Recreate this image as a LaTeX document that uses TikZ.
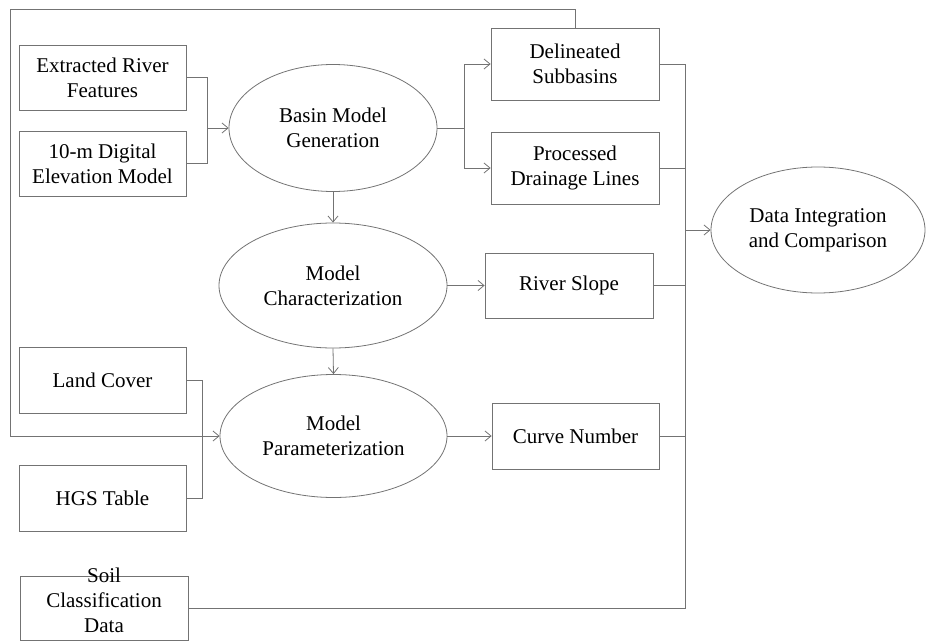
\documentclass[tikz,border=0pt]{standalone}
\usepackage{fontspec}
\setmainfont{Liberation Serif}
\usetikzlibrary{shapes.geometric,arrows.meta}

\begin{document}
\begin{tikzpicture}[x=1pt,y=-1pt,
    every node/.style={font=\fontsize{21}{25}\selectfont,align=center,inner sep=0pt},
    databox/.style={draw=black!55,line width=0.8pt,rectangle,minimum width=167pt,minimum height=65pt},
    process/.style={draw=black!55,line width=0.8pt,ellipse},
    link/.style={draw=black!55,line width=0.8pt},
    flow/.style={link,-{Straight Barb[length=6pt,width=10pt]}}]

    \useasboundingbox (0,0) rectangle (926,642);

    % --- inputs ---
    \node[databox] (river) at (102.5,77.5) {Extracted River\\Features};
    \node[databox] (dem) at (102.5,163.5) {10-m Digital\\Elevation Model};
    \node[databox,minimum height=66pt] (landcover) at (102.5,380) {Land Cover};
    \node[databox,minimum height=66pt] (hgs) at (102.5,498) {HGS Table};
    \node[databox,minimum width=168pt,minimum height=64pt] (soil) at (104,608)
      {\smash{\begin{tabular}{@{}c@{}}Soil\\Classification\\Data\end{tabular}}};

    % --- processing steps ---
    \node[process,minimum width=208pt,minimum height=127pt] (basin) at (333,128) {Basin Model\\Generation};
    \node[process,minimum width=228pt,minimum height=125pt] (charact) at (333,285.5) {Model\\Characterization};
    \node[process,minimum width=227pt,minimum height=123pt] (param) at (333.5,436) {Model\\Parameterization};
    \node[process,minimum width=214pt,minimum height=126pt] (integ) at (818,230) {Data Integration\\and Comparison};

    % --- outputs ---
    \node[databox,minimum width=168pt,minimum height=72pt] (subbasins) at (575,64) {Delineated\\Subbasins};
    \node[databox,minimum width=168pt,minimum height=72pt] (drainage) at (575,168) {Processed\\Drainage Lines};
    \node[databox,minimum width=168pt] (slope) at (569,285.5) {River Slope};
    \node[databox,minimum height=66pt] (curve) at (575.5,436) {Curve Number};

    % --- junctions ---
    \coordinate (injoin) at (207,128);
    \coordinate (split) at (464,128);
    \coordinate (lcjoin) at (202,436);
    \coordinate (loop) at (10,9);
    \coordinate (bus) at (685,230);

    % --- connectors ---
    \draw[link] (river.east) -| (injoin);
    \draw[link] (dem.east) -| (injoin);
    \draw[flow] (injoin) -- (basin.west);

    \draw[link] (basin.east) -- (split);
    \draw[flow] (split) |- (subbasins.west);
    \draw[flow] (split) |- (drainage.west);

    \draw[flow] (basin.south) -- (charact.north);
    \draw[flow] (charact.south) -- (param.north);
    \draw[flow] (charact.east) -- (slope.west);
    \draw[flow] (param.east) -- (curve.west);

    % subbasins loop back into parameterization
    \draw[flow] (subbasins.north) |- (loop) |- (param.west);
    \draw[link] (landcover.east) -| (lcjoin);
    \draw[link] (hgs.east) -| (lcjoin);

    % everything gathers into the integration step
    \draw[link] (subbasins.east) -| (bus);
    \draw[link] (drainage.east) -| (bus);
    \draw[link] (slope.east) -| (bus);
    \draw[link] (curve.east) -| (bus);
    \draw[link] (soil.east) -| (bus);
    \draw[flow] (bus) -- (integ.west);

\end{tikzpicture}
\end{document}
